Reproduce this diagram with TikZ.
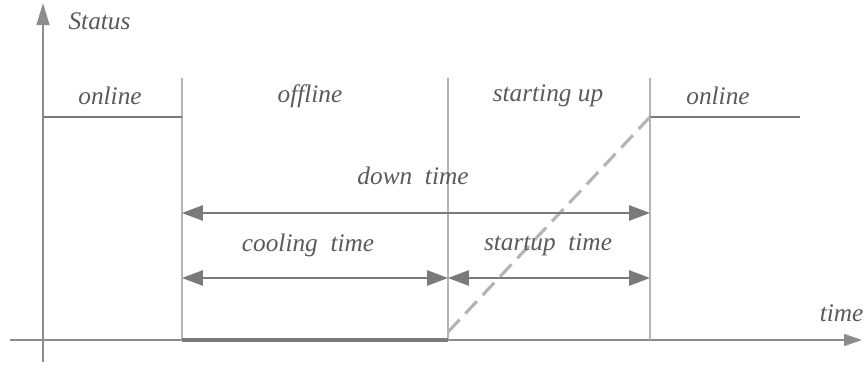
\documentclass[tikz,border=0pt]{standalone}
\usepackage{fontspec}
\setmainfont{Liberation Serif}
\usetikzlibrary{positioning}
\usetikzlibrary{arrows.meta}
\definecolor{axisgray}{HTML}{8C8C8C}
\definecolor{linegray}{HTML}{7A7A7A}
\definecolor{divgray}{HTML}{B4B4B4}
\definecolor{textgray}{HTML}{5A5A5A}
\tikzset{edge/.style = {<->,> = {Triangle[length=0.52cm,width=0.38cm]}, draw=linegray, fill=linegray, line width=1.2pt}}

\begin{document}
\begin{tikzpicture}[x=0.025cm, y=-0.025cm, thick,
    state node/.style={font=\itshape\fontsize{18}{21}\selectfont, text=textgray, inner sep=0pt},
    divider/.style={draw=divgray, line width=2pt},
    level/.style={draw=linegray, line width=1.4pt}]
  \useasboundingbox (0,0) rectangle (865,368);
  % axes
  \coordinate (xstart) at (10,340);
  \coordinate (xend) at (862,340);
  \coordinate (ystart) at (43,362);
  \coordinate (yend) at (43,3);
  \draw[axisgray, line width=1.2pt, -{Triangle[length=0.45cm,width=0.3cm]}] (xstart) -- (xend);
  \draw[axisgray, line width=1.2pt, -{Triangle[length=0.55cm,width=0.32cm]}] (ystart) -- (yend);
  \node[state node, anchor=west] (status) at (68,21) {Status};
  \node[state node, anchor=south east] (time) at (864,322) {time};
  % phase borders
  \foreach \n/\x in {1/182,2/448,3/650} {
    \coordinate (top\n) at (\x,78);
    \coordinate (bot\n) at (\x,340);
    \draw[divider] (top\n) -- (bot\n);
  }
  % levels
  \coordinate (on1) at (43,117);
  \coordinate (on2) at (182,117);
  \coordinate (on3) at (650,117);
  \coordinate (on4) at (800,117);
  \draw[level] (on1) -- (on2);
  \draw[level] (on3) -- (on4);
  \draw[draw=linegray, line width=2.4pt] (bot1) -- (bot2);
  \coordinate (ramp) at (448,332);
  \draw[divgray, line width=2.2pt, dash pattern=on 12pt off 6pt] (ramp) -- (on3);
  % phase names
  \node[state node] (online1) at (110,96) {online};
  \node[state node] (offline) at (310,96) {offline};
  \node[state node] (startup) at (548,96) {starting up};
  \node[state node] (online2) at (718,96) {online};
  % durations
  \coordinate (down1) at (182,213);
  \coordinate (down2) at (650,213);
  \coordinate (cool1) at (182,278);
  \coordinate (cool2) at (448,278);
  \coordinate (start2) at (650,278);
  \draw[edge] (down1) -- (down2);
  \draw[edge] (cool1) -- (cool2);
  \draw[edge] (cool2) -- (start2);
  \node[state node] (downtime) at (413,176) {down\ \ time};
  \node[state node] (cooltime) at (308,245) {cooling\ \ time};
  \node[state node] (starttime) at (548,245) {startup\ \ time};
\end{tikzpicture}
\end{document}
